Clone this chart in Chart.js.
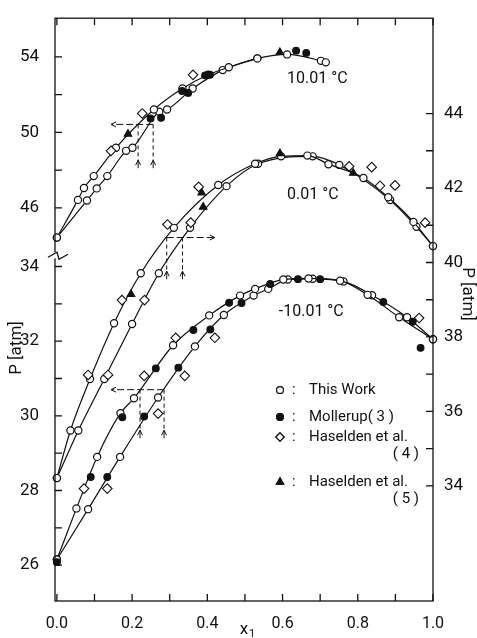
<!DOCTYPE html>
<html lang="en">
<head>
<meta charset="UTF-8">
<title>P - x1 isotherms</title>
<script src="https://cdn.jsdelivr.net/npm/chart.js"></script>
<style>
  html, body { margin: 0; padding: 0; background: #fff; }
  canvas { display: block; }
</style>
</head>
<body>
<canvas id="chart" width="477" height="638"></canvas>
<script>
// ticks
const xTicks = [0, 0.1, 0.2, 0.3, 0.4, 0.5, 0.6, 0.7, 0.8, 0.9, 1.0];
const leftLowTicks = [26, 27, 28, 29, 30, 31, 32, 33, 34];
const leftLowLabels = [26, 28, 30, 32, 34];
const leftHighTicks = [46, 48, 50, 52, 54];
const leftHighLabels = [46, 50, 54];
const rightTicks = [34, 35, 36, 37, 38, 39, 40, 41, 42, 43, 44];
const rightLabels = [34, 36, 38, 40, 42, 44];

// 10.01 °C (upper left scale)
const x10Bub = [0, 0.056, 0.072, 0.098, 0.157, 0.258, 0.334, 0.402, 0.457, 0.533, 0.612, 0.702, 0.715];
const p10Bub = [44.42, 46.42, 47.05, 47.68, 49.18, 51.21, 52.32, 53.05, 53.45, 53.92, 54.13, 53.79, 53.71];
const x10Dew = [0, 0.080, 0.106, 0.134, 0.184, 0.201, 0.272, 0.293, 0.361, 0.441, 0.533];
const p10Dew = [44.42, 46.39, 47.03, 47.68, 49.02, 49.18, 51.09, 51.21, 52.32, 53.30, 53.92];
const x10Mol = [0.249, 0.277, 0.333, 0.349, 0.394, 0.407, 0.636, 0.663];
const p10Mol = [50.74, 50.77, 52.19, 52.09, 53.02, 53.05, 54.33, 54.21];
const x10Has4 = [0.144, 0.227, 0.362];
const p10Has4 = [49.02, 51.0, 53.05];
const x10Has5 = [0.189, 0.593];
const p10Has5 = [49.91, 54.24];

// 0.01 °C (right scale)
const x0Bub = [0, 0.036, 0.088, 0.152, 0.223, 0.311, 0.429, 0.527, 0.596, 0.666, 0.722, 0.815, 0.881, 0.948, 1.0];
const p0Bub = [34.21, 35.49, 36.87, 38.37, 39.71, 40.93, 42.08, 42.65, 42.85, 42.87, 42.64, 42.27, 41.75, 41.09, 40.44];
const x0Dew = [0, 0.057, 0.126, 0.200, 0.271, 0.354, 0.451, 0.535, 0.680, 0.751, 0.886, 0.956, 1.0];
const p0Dew = [34.21, 35.49, 36.87, 38.35, 39.71, 40.93, 42.05, 42.65, 42.85, 42.62, 41.68, 40.96, 40.44];
const x0Has4 = [0.083, 0.136, 0.173, 0.233, 0.294, 0.356, 0.377, 0.777, 0.837, 0.859, 0.899, 0.979];
const p0Has4 = [36.98, 36.98, 38.99, 38.99, 41.02, 41.07, 42.03, 42.58, 42.56, 42.06, 42.07, 41.07];
const x0Has5 = [0.197, 0.385, 0.389, 0.593, 0.788];
const p0Has5 = [39.15, 41.87, 41.49, 42.93, 42.40];

// -10.01 °C (lower left scale)
const xm10Bub = [0, 0.052, 0.107, 0.169, 0.205, 0.309, 0.405, 0.487, 0.527, 0.602, 0.669, 0.753, 0.826, 0.910, 1.0];
const pm10Bub = [26.15, 27.52, 28.90, 30.07, 30.47, 31.89, 32.69, 33.22, 33.40, 33.65, 33.68, 33.62, 33.24, 32.64, 32.05];
const xm10Dew = [0, 0.083, 0.168, 0.269, 0.367, 0.444, 0.523, 0.562, 0.614, 0.680, 0.762, 0.838, 0.931, 1.0];
const pm10Dew = [26.15, 27.50, 28.90, 30.49, 31.86, 32.70, 33.22, 33.40, 33.65, 33.67, 33.60, 33.23, 32.64, 32.05];
const xm10Mol = [0, 0.090, 0.134, 0.174, 0.232, 0.263, 0.323, 0.363, 0.408, 0.458, 0.491, 0.567, 0.641, 0.700, 0.868, 0.946, 0.967];
const pm10Mol = [26.08, 28.36, 28.36, 29.96, 29.98, 31.27, 31.29, 32.30, 32.31, 33.03, 33.02, 33.53, 33.66, 33.66, 33.05, 32.52, 31.82];
const xm10Has4 = [0.072, 0.134, 0.232, 0.269, 0.316, 0.340, 0.420, 0.963];
const pm10Has4 = [28.05, 28.05, 31.07, 30.06, 32.09, 31.07, 32.09, 32.62];

// azeotrope arrows: horizontal line at P, verticals down to foot
const arrowAxis = ['yU', 'yR', 'yL'];
const arrowP = [50.42, 40.67, 30.70];
const arrowFrom = [0.256, 0.292, 0.285];
const arrowTo = [0.144, 0.420, 0.144];
const arrowX1 = [0.216, 0.292, 0.221];
const arrowX2 = [0.256, 0.334, 0.285];
const arrowFoot = [48.1, 39.55, 29.40];

const yLRange = [25.04, 40.65];
const yURange = [25.16, 56.05];
const yRRange = [30.91, 46.56];

const FONT = "Roboto, 'DejaVu Sans', sans-serif";
const INK = '#111';

function pts(xs, ps) { return xs.map((x, i) => ({ x: x, y: ps[i] })); }
function upperToLeft(u) {
  const f = (u - yURange[0]) / (yURange[1] - yURange[0]);
  return yLRange[0] + f * (yLRange[1] - yLRange[0]);
}

function branch(xs, ps, axis) {
  return {
    yAxisID: axis, data: pts(xs, ps), showLine: true, clip: false,
    borderColor: INK, borderWidth: 1.2, cubicInterpolationMode: 'monotone',
    pointStyle: 'circle', pointRadius: 3.6, pointBackgroundColor: '#fff',
    pointBorderColor: INK, pointBorderWidth: 1.2, order: 3
  };
}
function marks(xs, ps, axis, kind) {
  const st = {
    mol: { pointStyle: 'circle', pointRadius: 3.4, pointBackgroundColor: INK },
    h4: { pointStyle: 'rectRot', pointRadius: 4.8, pointBackgroundColor: '#fff' },
    h5: { pointStyle: 'triangle', pointRadius: 4.4, pointBackgroundColor: INK }
  }[kind];
  return Object.assign({
    yAxisID: axis, data: pts(xs, ps), showLine: false, clip: false,
    pointBorderColor: INK, pointBorderWidth: 1.1, order: 1
  }, st);
}

const datasets = [
  branch(x10Bub, p10Bub, 'yU'), branch(x10Dew, p10Dew, 'yU'),
  branch(x0Bub, p0Bub, 'yR'), branch(x0Dew, p0Dew, 'yR'),
  branch(xm10Bub, pm10Bub, 'yL'), branch(xm10Dew, pm10Dew, 'yL'),
  marks(x10Mol, p10Mol, 'yU', 'mol'), marks(x10Has4, p10Has4, 'yU', 'h4'), marks(x10Has5, p10Has5, 'yU', 'h5'),
  marks(x0Has4, p0Has4, 'yR', 'h4'), marks(x0Has5, p0Has5, 'yR', 'h5'),
  marks(xm10Mol, pm10Mol, 'yL', 'mol'), marks(xm10Has4, pm10Has4, 'yL', 'h4')
];

function arrowHead(ctx, x, y, dx, dy) {
  const len = Math.hypot(dx, dy), ux = dx / len, uy = dy / len, s = 5;
  ctx.beginPath();
  ctx.moveTo(x - ux * s - uy * 2.5, y - uy * s + ux * 2.5);
  ctx.lineTo(x, y);
  ctx.lineTo(x - ux * s + uy * 2.5, y - uy * s - ux * 2.5);
  ctx.stroke();
}

const decor = {
  id: 'decor',
  afterDraw(chart) {
    const { ctx, chartArea: a, scales } = chart;
    const sx = scales.x;
    ctx.save();
    ctx.strokeStyle = INK;
    ctx.fillStyle = INK;
    ctx.lineWidth = 1.3;
    ctx.strokeRect(a.left, a.top, a.right - a.left, a.bottom - a.top);

    // inward ticks
    const TL = 7;
    ctx.beginPath();
    sx.ticks.forEach(t => {
      const px = sx.getPixelForValue(t.value);
      ctx.moveTo(px, a.bottom); ctx.lineTo(px, a.bottom - TL);
      ctx.moveTo(px, a.top); ctx.lineTo(px, a.top + TL);
    });
    scales.yL.ticks.forEach(t => {
      const py = scales.yL.getPixelForValue(t.value);
      ctx.moveTo(a.left, py); ctx.lineTo(a.left + TL, py);
    });
    scales.yR.ticks.forEach(t => {
      const py = scales.yR.getPixelForValue(t.value);
      ctx.moveTo(a.right, py); ctx.lineTo(a.right - TL, py);
    });
    ctx.stroke();

    // axis break
    const by = scales.yL.getPixelForValue(34.3);
    ctx.fillStyle = '#fff';
    ctx.fillRect(a.left - 2, by - 3, 4, 6);
    ctx.beginPath();
    ctx.moveTo(a.left - 7, by + 2);
    ctx.lineTo(a.left + 2, by - 3);
    ctx.lineTo(a.left + 4, by + 4);
    ctx.lineTo(a.left + 13, by - 1);
    ctx.stroke();

    // azeotrope arrows
    ctx.lineWidth = 1;
    arrowAxis.forEach((ax, i) => {
      const sy = scales[ax];
      const py = sy.getPixelForValue(arrowP[i]);
      const x0 = sx.getPixelForValue(arrowFrom[i]);
      const x1 = sx.getPixelForValue(arrowTo[i]);
      ctx.setLineDash([7, 3]);
      ctx.beginPath(); ctx.moveTo(x0, py); ctx.lineTo(x1, py); ctx.stroke();
      ctx.setLineDash([]);
      arrowHead(ctx, x1, py, x1 - x0, 0);
      const fy = sy.getPixelForValue(arrowFoot[i]);
      [arrowX1[i], arrowX2[i]].forEach(xv => {
        const px = sx.getPixelForValue(xv);
        ctx.setLineDash([4, 3]);
        ctx.beginPath(); ctx.moveTo(px, py); ctx.lineTo(px, fy - 8); ctx.stroke();
        ctx.setLineDash([]);
        ctx.beginPath(); ctx.moveTo(px, fy); ctx.lineTo(px, fy - 8); ctx.stroke();
        arrowHead(ctx, px, fy - 8, 0, -1);
      });
    });

    // isotherm labels
    ctx.fillStyle = INK;
    ctx.font = '16px ' + FONT;
    ctx.textBaseline = 'middle';
    ctx.textAlign = 'left';
    ctx.fillText('10.01 °C', sx.getPixelForValue(0.612), scales.yU.getPixelForValue(52.84));
    ctx.fillText('0.01 °C', sx.getPixelForValue(0.612), scales.yR.getPixelForValue(41.81));
    ctx.fillText('-10.01 °C', sx.getPixelForValue(0.590), scales.yL.getPixelForValue(32.78));

    // axis titles
    ctx.font = '17px ' + FONT;
    ctx.textAlign = 'center';
    ctx.save();
    ctx.translate(17, 348); ctx.rotate(-Math.PI / 2);
    ctx.fillText('P [atm]', 0, 0);
    ctx.restore();
    ctx.save();
    ctx.translate(a.right + 34, 294); ctx.rotate(Math.PI / 2);
    ctx.fillText('P [atm]', 0, 0);
    ctx.restore();
    const cx = (a.left + a.right) / 2;
    ctx.font = '17px ' + FONT;
    ctx.fillText('x', cx, 630);
    ctx.font = '11px ' + FONT;
    ctx.fillText('1', cx + 8, 634);

    // legend
    const lx = a.left + 225, colx = lx + 12, tx = lx + 29;
    const rows = [
      { y: 390, style: 'circle', r: 3.4, fill: '#fff', lines: ['This Work'] },
      { y: 417, style: 'circle', r: 3.4, fill: INK, lines: ['Mollerup( 3 )'] },
      { y: 437, style: 'rectRot', r: 4.2, fill: '#fff', lines: ['Haselden et al.', '( 4 )'] },
      { y: 482, style: 'triangle', r: 4.2, fill: INK, lines: ['Haselden et al.', '( 5 )'] }
    ];
    ctx.font = '15px ' + FONT;
    rows.forEach(r => {
      ctx.fillStyle = r.fill; ctx.strokeStyle = INK; ctx.lineWidth = 1.1;
      Chart.helpers.drawPoint(ctx, { pointStyle: r.style, radius: r.r, rotation: 0, borderWidth: 1.1 }, lx, r.y);
      ctx.fill(); ctx.stroke();
      ctx.fillStyle = INK;
      ctx.textAlign = 'left';
      ctx.fillText(':', colx, r.y);
      ctx.fillText(r.lines[0], tx, r.y);
      if (r.lines[1]) {
        ctx.textAlign = 'right';
        ctx.fillText(r.lines[1], tx + 110, r.y + 17);
      }
    });
    ctx.restore();
  }
};

new Chart(document.getElementById('chart'), {
  type: 'scatter',
  data: { datasets: datasets },
  options: {
    responsive: false,
    animation: false,
    layout: { padding: { top: 14, left: 0, right: 0, bottom: 0 } },
    plugins: { legend: { display: false }, tooltip: { enabled: false } },
    scales: {
      x: {
        type: 'linear', min: -0.005, max: 1.0,
        grid: { display: false }, border: { display: false },
        afterBuildTicks: s => { s.ticks = xTicks.map(v => ({ value: v })); },
        afterFit: s => { s.height = 37; },
        ticks: {
          autoSkip: false, maxRotation: 0, minRotation: 0, padding: 5, color: INK,
          font: { family: FONT, size: 16 },
          callback: (v, i) => (i % 2 === 0 ? v.toFixed(1) : '')
        }
      },
      yL: {
        type: 'linear', position: 'left', min: yLRange[0], max: yLRange[1],
        grid: { display: false }, border: { display: false },
        afterBuildTicks: s => {
          const lo = leftLowTicks.map(v => ({ value: v }));
          const hi = leftHighTicks.map(u => ({ value: upperToLeft(u), upper: u }));
          s.ticks = lo.concat(hi);
        },
        afterFit: s => { s.width = 55; },
        ticks: {
          autoSkip: false, padding: 8, color: INK,
          font: { family: FONT, size: 17 },
          callback: (v, i, ticks) => {
            const t = ticks[i];
            if (t.upper !== undefined) return leftHighLabels.includes(t.upper) ? String(t.upper) : '';
            return leftLowLabels.includes(v) ? String(v) : '';
          }
        }
      },
      yU: { type: 'linear', display: false, min: yURange[0], max: yURange[1] },
      yR: {
        type: 'linear', position: 'right', min: yRRange[0], max: yRRange[1],
        grid: { display: false }, border: { display: false },
        afterBuildTicks: s => { s.ticks = rightTicks.map(v => ({ value: v })); },
        afterFit: s => { s.width = 44; },
        ticks: {
          autoSkip: false, padding: 3, color: INK,
          font: { family: FONT, size: 17 },
          callback: v => (rightLabels.includes(v) ? String(v) : '')
        }
      }
    }
  },
  plugins: [decor]
});
</script>
</body>
</html>
